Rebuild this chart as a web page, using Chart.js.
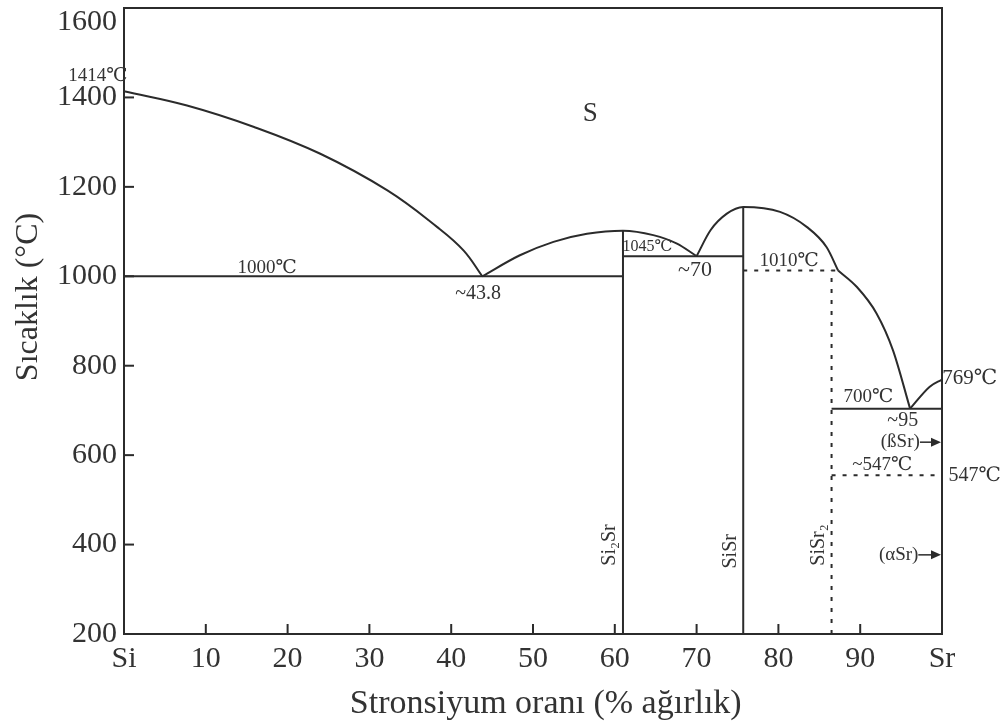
<!DOCTYPE html>
<html>
<head>
<meta charset="utf-8">
<script src="https://cdn.jsdelivr.net/npm/chart.js@4.4.0/dist/chart.umd.min.js"></script>
<style>html,body{margin:0;padding:0;background:#fff}</style>
</head>
<body>
<canvas id="faz" width="1004" height="724"></canvas>
<script>
// Si-Sr faz diyagramı
const xTicks = [0,10,20,30,40,50,60,70,80,90,100];
const xTickLabels = ['Si','10','20','30','40','50','60','70','80','90','Sr'];
const yTicks = [200,400,600,800,1000,1200,1400,1600];

// liquidus egrileri
const liqSiX = [0, 7.7, 15.9, 24.0, 32.2, 38.3, 41.5, 43.8];
const liqSiT = [1414, 1382, 1334, 1274, 1192, 1110, 1058, 1000];
const liqSi2SrX = [43.8, 48.4, 52.5, 56.6, 61.0, 64.7, 67.6, 70.0];
const liqSi2SrT = [1000, 1047, 1077, 1095, 1102, 1092, 1073, 1045];
const liqSiSrX = [70.0, 71.7, 73.7, 75.7, 80.2, 83.5, 85.9, 87.3];
const liqSiSrT = [1045, 1103, 1140, 1155, 1144, 1110, 1065, 1013];
const liqSiSr2X = [87.3, 89.6, 92.0, 94.0, 96.1];
const liqSiSr2T = [1013, 976, 917, 835, 704];
const liqSrX = [96.1, 98.5, 100];
const liqSrT = [704, 753, 769];

// yatay ve dikey cizgiler
const eut1000X = [0, 61.0], eut1000T = [1000, 1000];
const eut1045X = [61.0, 75.7], eut1045T = [1045, 1045];
const eut700X = [86.5, 100], eut700T = [704, 704];
const si2SrX = [61.0, 61.0], si2SrT = [200, 1102];
const siSrX = [75.7, 75.7], siSrT = [200, 1155];
const per1010X = [75.7, 87.3], per1010T = [1013, 1013];
const siSr2X = [86.5, 86.5], siSr2T = [200, 1013];
const tr547X = [86.5, 100], tr547T = [555, 555];

const ink = '#2b2b2b';
const txt = '#333';
const serif = '"Liberation Serif", "DejaVu Serif", serif';

function pts(xs, ts){ return xs.map((v,i)=>({x:v, y:ts[i]})); }

function curve(xs, ts, mono){
  return { data: pts(xs,ts), showLine:true, pointRadius:0, borderColor:ink, borderWidth:2,
    cubicInterpolationMode: mono ? 'monotone' : 'default', tension:0.4, clip:false };
}
function straight(xs, ts, dashed){
  return { data: pts(xs,ts), showLine:true, pointRadius:0, borderColor:ink,
    borderWidth: 2, borderDash: dashed ? [4,7] : [], tension:0, clip:false };
}

const notes = [
  {t:'1414℃', x:-3.2, y:1449, s:19},
  {t:'S', x:57.0, y:1364, s:27},
  {t:'1000℃', x:17.5, y:1018, s:19},
  {t:'~43.8', x:43.3, y:962, s:20},
  {t:'1045℃', x:64.0, y:1065, s:16},
  {t:'~70', x:69.8, y:1013, s:22},
  {t:'1010℃', x:81.3, y:1034, s:19},
  {t:'700℃', x:91.0, y:730, s:19},
  {t:'~95', x:95.2, y:676, s:20},
  {t:'769℃', x:103.4, y:772, s:21},
  {t:'(ßSr)', x:94.9, y:629, s:19},
  {t:'~547℃', x:92.7, y:578, s:19},
  {t:'547℃', x:104.0, y:553, s:20},
  {t:'(αSr)', x:94.7, y:377, s:19},
  {t:'Si₂Sr', x:59.4, y:399, s:20, rot:true},
  {t:'SiSr', x:74.2, y:385, s:20, rot:true},
  {t:'SiSr₂', x:84.9, y:399, s:20, rot:true}
];
const arrows = [{x0:97.3, x1:100, y:629}, {x0:97.1, x1:100, y:377}];

const extras = {
  id:'extras',
  afterDatasetsDraw(chart){
    const {ctx, scales:{x, y}} = chart;
    ctx.save();
    ctx.strokeStyle = ink; ctx.lineWidth = 2;
    xTicks.slice(1,-1).forEach(v=>{
      const px = x.getPixelForValue(v);
      ctx.beginPath(); ctx.moveTo(px, y.bottom); ctx.lineTo(px, y.bottom-10); ctx.stroke();
    });
    yTicks.slice(1,-1).forEach(v=>{
      const py = y.getPixelForValue(v);
      ctx.beginPath(); ctx.moveTo(x.left, py); ctx.lineTo(x.left+10, py); ctx.stroke();
    });
    arrows.forEach(a=>{
      const p0 = x.getPixelForValue(a.x0), p1 = x.getPixelForValue(a.x1), py = y.getPixelForValue(a.y);
      ctx.lineWidth = 1.5;
      ctx.beginPath(); ctx.moveTo(p0, py); ctx.lineTo(p1-8, py); ctx.stroke();
      ctx.fillStyle = ink;
      ctx.beginPath(); ctx.moveTo(p1-1, py); ctx.lineTo(p1-11, py-4.5); ctx.lineTo(p1-11, py+4.5); ctx.closePath(); ctx.fill();
    });
    ctx.fillStyle = txt;
    ctx.textAlign = 'center'; ctx.textBaseline = 'middle';
    notes.forEach(n=>{
      const px = x.getPixelForValue(n.x), py = y.getPixelForValue(n.y);
      ctx.font = n.s + 'px ' + serif;
      if (n.rot){
        ctx.save(); ctx.translate(px, py); ctx.rotate(-Math.PI/2); ctx.fillText(n.t, 0, 0); ctx.restore();
      } else {
        ctx.fillText(n.t, px, py);
      }
    });
    ctx.restore();
  }
};

function fixSize(prop, val){
  return s => { s[prop] = val; s.paddingTop = 0; s.paddingBottom = 0; s.paddingLeft = 0; s.paddingRight = 0; };
}

new Chart(document.getElementById('faz'), {
  type:'scatter',
  data:{
    datasets:[
      curve(liqSiX, liqSiT, false),
      curve(liqSi2SrX, liqSi2SrT, true),
      curve(liqSiSrX, liqSiSrT, true),
      curve(liqSiSr2X, liqSiSr2T, true),
      curve(liqSrX, liqSrT, true),
      straight(eut1000X, eut1000T),
      straight(eut1045X, eut1045T),
      straight(eut700X, eut700T),
      straight(si2SrX, si2SrT),
      straight(siSrX, siSrT),
      straight(per1010X, per1010T, true),
      straight(siSr2X, siSr2T, true),
      straight(tr547X, tr547T, true)
    ]
  },
  options:{
    responsive:false,
    animation:false,
    devicePixelRatio:1,
    layout:{padding:0},
    plugins:{legend:{display:false}, tooltip:{enabled:false}},
    scales:{
      x:{
        type:'linear', position:'bottom', min:0, max:100,
        afterFit: fixSize('height', 90),
        grid:{display:false, drawTicks:false},
        border:{display:true, color:ink, width:2},
        ticks:{stepSize:10, autoSkip:false, maxRotation:0, padding:7, color:txt,
          font:{family:serif, size:30},
          callback: v => xTickLabels[xTicks.indexOf(v)]},
        title:{display:true, text:'   Stronsiyum oranı (% ağırlık)', color:txt,
          font:{family:serif, size:34}, padding:{top:0, bottom:0}}
      },
      x2:{
        type:'linear', position:'top', min:0, max:100,
        afterFit: fixSize('height', 8),
        grid:{display:false, drawTicks:false},
        border:{display:true, color:ink, width:2},
        ticks:{display:false}
      },
      y:{
        type:'linear', position:'left', min:200, max:1600,
        afterFit: fixSize('width', 124),
        grid:{display:false, drawTicks:false},
        border:{display:true, color:ink, width:2},
        ticks:{stepSize:200, autoSkip:false, padding:7, color:txt,
          font:{family:serif, size:30, lineHeight:0.95},
          callback: v => v === 1600 ? ['', String(v)] : String(v)},
        title:{display:true, text:'      Sıcaklık (°C)', color:txt,
          font:{family:serif, size:32}, padding:{top:9, bottom:0}}
      },
      y2:{
        type:'linear', position:'right', min:200, max:1600,
        afterFit: fixSize('width', 62),
        grid:{display:false, drawTicks:false},
        border:{display:true, color:ink, width:2},
        ticks:{display:false}
      }
    }
  },
  plugins:[extras]
});
</script>
</body>
</html>
